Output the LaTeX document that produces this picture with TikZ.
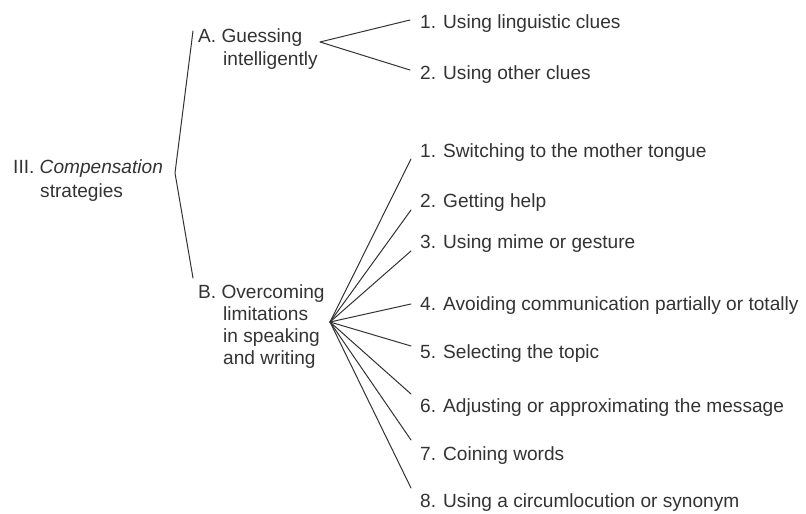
\documentclass[tikz,border=0pt]{standalone}
\usepackage{fontspec}
\setmainfont{Liberation Sans}
\definecolor{ink}{HTML}{333333}
\begin{document}
\begin{tikzpicture}[x=1pt,y=-1pt,
  lbl/.style={anchor=base west,inner sep=0pt,text=ink,
              font=\fontsize{19.1}{22}\selectfont},
  branch/.style={draw=ink,line width=1pt,line join=round,line cap=round}]
\useasboundingbox[fill=white] (0,0) rectangle (806,514);

% root
\node[lbl] (root)  at (13,173) {III. \textit{Compensation}};
\node[lbl] (root2) at (40,197) {strategies};

% group A
\node[lbl] (A)  at (198,42) {A. Guessing};
\node[lbl] (A2) at (223,65) {intelligently};
\node[lbl] (a1) at (420,28) {1. Using linguistic clues};
\node[lbl] (a2) at (420,79) {2. Using other clues};

% group B
\node[lbl] (B)  at (198,298) {B. Overcoming};
\node[lbl] (B2) at (223,320) {limitations};
\node[lbl] (B3) at (223,342) {in speaking};
\node[lbl] (B4) at (223,364) {and writing};
\node[lbl] (b1) at (420,157) {1. Switching to the mother tongue};
\node[lbl] (b2) at (420,207) {2. Getting help};
\node[lbl] (b3) at (420,248) {3. Using mime or gesture};
\node[lbl] (b4) at (420,310) {4. Avoiding communication partially or totally};
\node[lbl] (b5) at (420,358) {5. Selecting the topic};
\node[lbl] (b6) at (420,412) {6. Adjusting or approximating the message};
\node[lbl] (b7) at (420,460) {7. Coining words};
\node[lbl] (b8) at (420,507) {8. Using a circumlocution or synonym};

% branching points and line ends
\coordinate (rootV) at (175,173);
\coordinate (toA)   at (193,31);
\coordinate (toB)   at (193,278);
\coordinate (Av)    at (320,42);
\coordinate (Ae1)   at (410,20);
\coordinate (Ae2)   at (410,70);
\coordinate (Bv)    at (330,322);
\coordinate (Be1)   at (411,159);
\coordinate (Be2)   at (411,210);
\coordinate (Be3)   at (411,251);
\coordinate (Be4)   at (411,304);
\coordinate (Be5)   at (411,346);
\coordinate (Be6)   at (411,394);
\coordinate (Be7)   at (411,440);
\coordinate (Be8)   at (411,488);

% connectors
\draw[branch] (toA) -- (rootV) -- (toB);
\draw[branch] (Ae1) -- (Av) -- (Ae2);
\foreach \i in {1,...,8} \draw[branch] (Bv) -- (Be\i);
\end{tikzpicture}
\end{document}
